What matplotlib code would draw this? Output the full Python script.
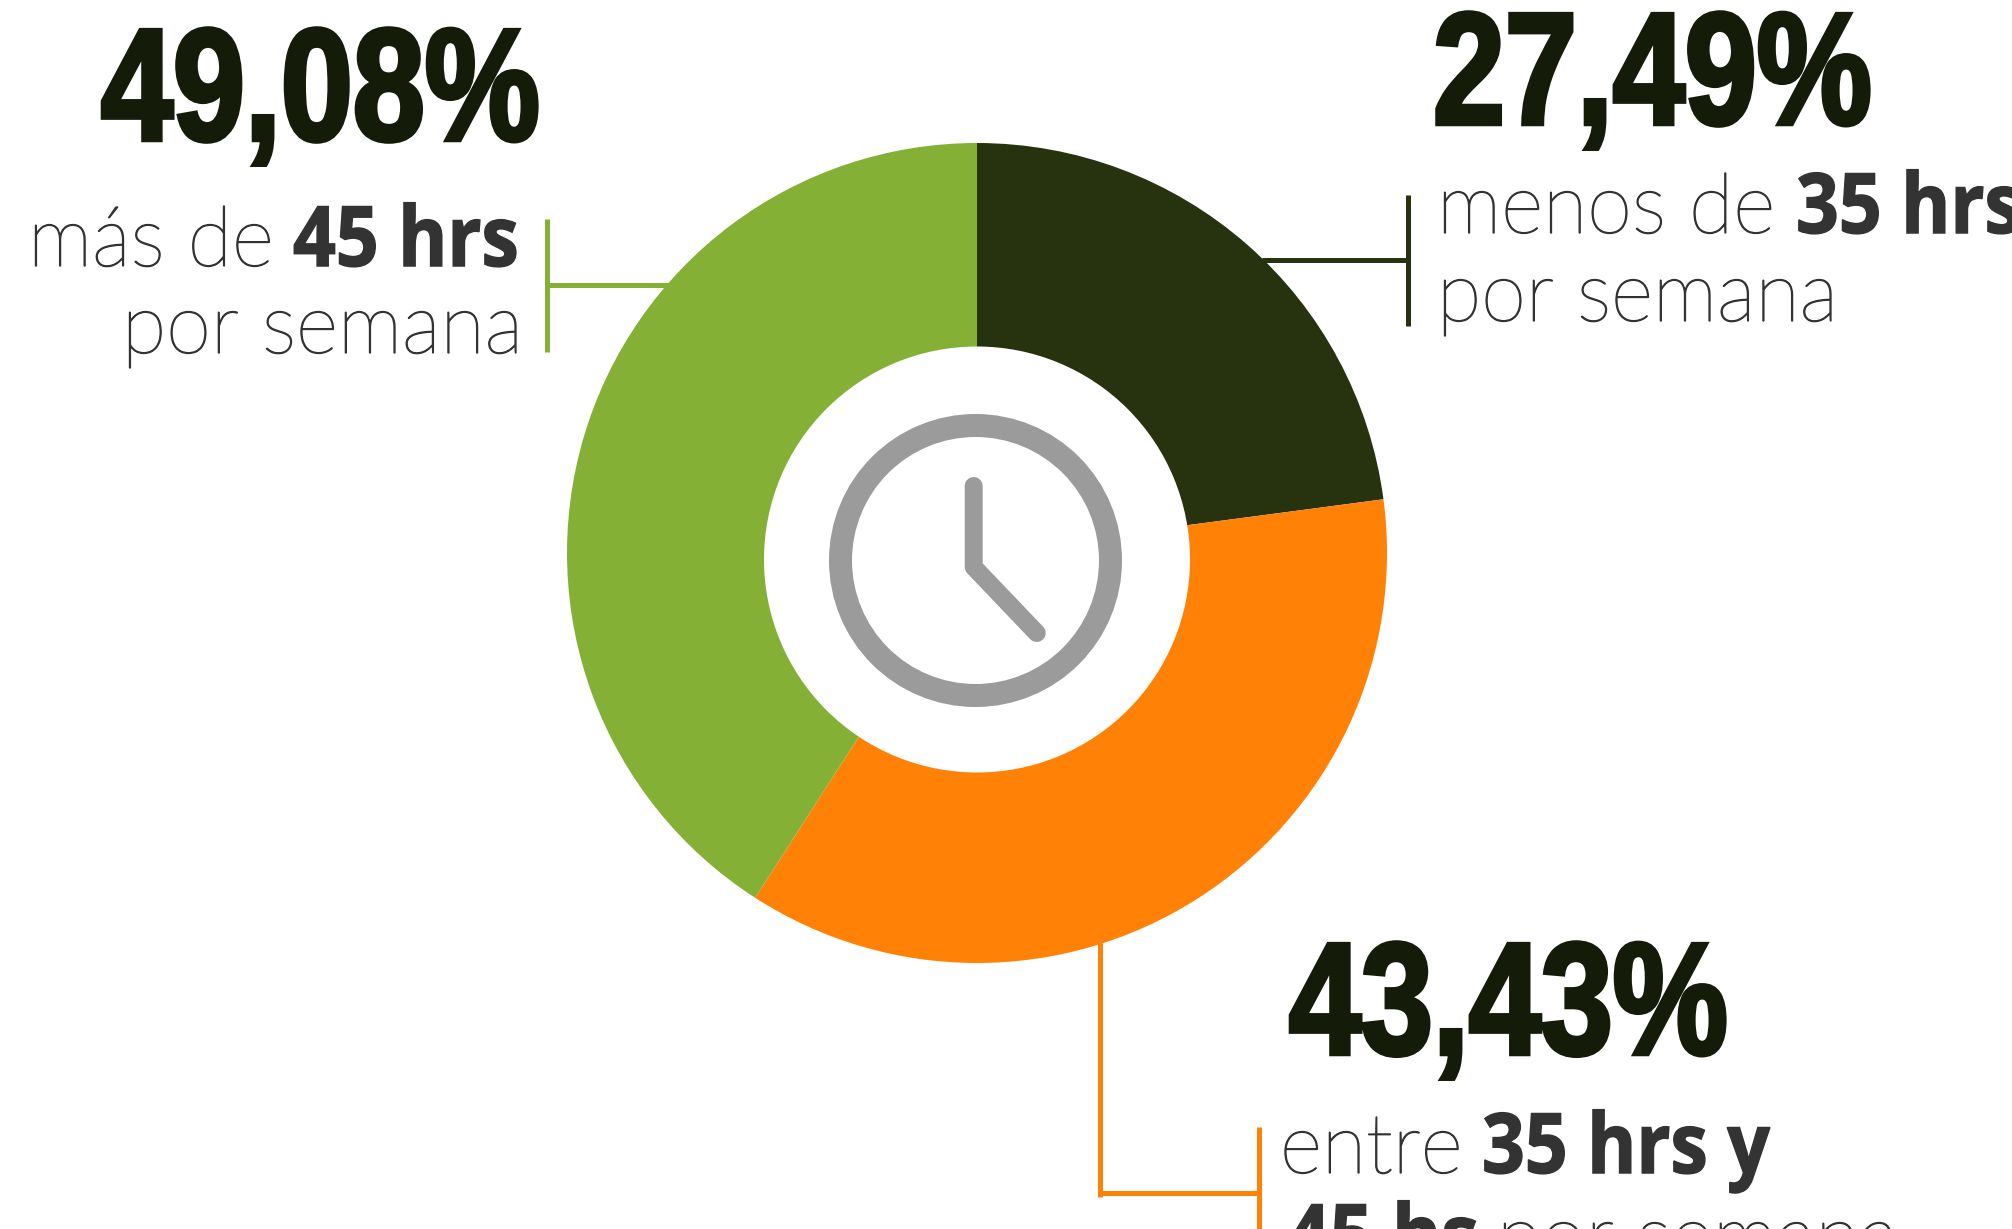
import matplotlib
matplotlib.use('Agg')
import matplotlib.pyplot as plt
import matplotlib.patches as patches
import matplotlib.patheffects as pe
from matplotlib.transforms import Affine2D

W = 2012
H = 1229
DPI = 100

# values as printed, they add up to 120 and the pie just normalises them
labels = ['27,49%', '43,43%', '49,08%']
values = [27.49, 43.43, 49.08]
colors = ['#27330F', '#FF8207', '#83B035']

DARK = '#141C09'
GREY = '#333333'
CLOCK = '#9B9B9B'

LIGHT = dict(family='Lato', weight='light', color=GREY, fontsize=60, va='baseline')
BOLD = dict(family='Open Sans', weight='bold', color=GREY, fontsize=60, va='baseline')
BIG = dict(family='Liberation Sans', weight='bold', color=DARK, fontsize=115, va='baseline')


def Y(y):
    return H - y


def px(n):
    return n * 72 / DPI


class Squeeze(pe.AbstractPathEffect):
    # no condensed fonts here, so narrow the glyphs and fatten them with a stroke
    def __init__(self, sx, stroke):
        super().__init__()
        self.sx = sx
        self.stroke = stroke

    def draw_path(self, renderer, gc, tpath, affine, rgbFace):
        gc0 = renderer.new_gc()
        gc0.copy_properties(gc)
        gc0.set_foreground(rgbFace)
        gc0.set_linewidth(px(self.stroke))
        gc0.set_joinstyle('miter')
        renderer.draw_path(gc0, tpath, Affine2D().scale(self.sx, 1) + affine, rgbFace)
        gc0.restore()


fig = plt.figure(figsize=(W / DPI, H / DPI), dpi=DPI)
ax = fig.add_axes([0, 0, 1, 1])

ax.pie(values, colors=colors, startangle=90, counterclock=False, center=(977, Y(553)), radius=410,
       wedgeprops={'linewidth': 0})
ax.set_xlim(0, W)
ax.set_ylim(0, H)
ax.set_aspect('equal')
ax.axis('off')

# hole is a bit lower than the pie centre
ax.add_patch(patches.Circle((977, Y(559.5)), 213, facecolor='white', edgecolor='none', zorder=3))

# clock
ax.add_patch(patches.Circle((975.5, Y(560.5)), 135, facecolor='none', edgecolor=CLOCK, linewidth=px(23), zorder=4))
ax.plot([973.7, 973.7, 1036.7], [Y(486), Y(567), Y(633)], color=CLOCK, linewidth=px(18),
        solid_capstyle='round', solid_joinstyle='round', zorder=4)

# leader lines
ax.plot([547, 547], [Y(219), Y(352)], color=colors[2], linewidth=px(5), solid_capstyle='butt')
ax.plot([547, 672], [Y(285), Y(285)], color=colors[2], linewidth=px(5), solid_capstyle='butt')
ax.plot([1408, 1408], [Y(195), Y(326)], color=colors[0], linewidth=px(5), solid_capstyle='butt')
ax.plot([1262, 1408], [Y(260), Y(260)], color=colors[0], linewidth=px(5), solid_capstyle='butt')
ax.plot([1100, 1100], [Y(943), Y(1197)], color=colors[1], linewidth=px(5), solid_capstyle='butt')
ax.plot([1100, 1259], [Y(1193), Y(1193)], color=colors[1], linewidth=px(5), solid_capstyle='butt')
ax.plot([1259, 1259], [Y(1127), Y(1229)], color=colors[1], linewidth=px(5), solid_capstyle='butt')

# big numbers
big_fx = [Squeeze(0.81, 4.5)]
ax.text(1433, Y(124), labels[0], path_effects=big_fx, **BIG)
ax.text(1289, Y(1054), labels[1], path_effects=big_fx, **BIG)
ax.text(101, Y(140), labels[2], path_effects=big_fx, **BIG)

# captions
light_fx = [Squeeze(0.975, 1.3)]
bold_fx = [Squeeze(0.9, 1.5)]
ax.text(28, Y(266), 'más de', path_effects=light_fx, **LIGHT)
ax.text(293, Y(266), '45 hrs', path_effects=bold_fx, **BOLD)
ax.text(122, Y(353), 'por semana', path_effects=light_fx, **LIGHT)

ax.text(1437, Y(233), 'menos de', path_effects=light_fx, **LIGHT)
ax.text(1796, Y(233), '35 hrs', path_effects=bold_fx, **BOLD)
ax.text(1437, Y(321), 'por semana', path_effects=light_fx, **LIGHT)

ax.text(1280, Y(1173), 'entre', path_effects=light_fx, **LIGHT)
ax.text(1482, Y(1173), '35 hrs y', path_effects=bold_fx, **BOLD)
ax.text(1287, Y(1264), '45 hs', path_effects=bold_fx, **BOLD)
ax.text(1497, Y(1264), 'por semana', path_effects=light_fx, **LIGHT)

fig.savefig('out.png', dpi=DPI)
